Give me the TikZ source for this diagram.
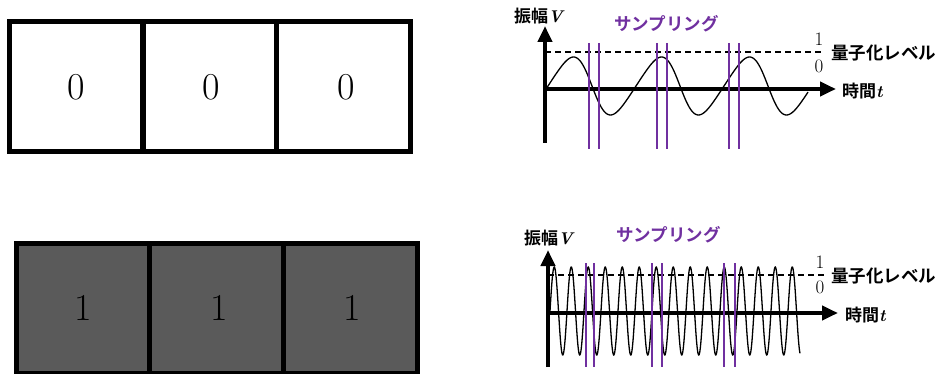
\documentclass[tikz,border=0pt]{standalone}
\usepackage{fontspec}
\newfontfamily\cjk{Noto Sans CJK JP Bold}
\usetikzlibrary{arrows.meta}
\definecolor{samp}{HTML}{7030A0}
\definecolor{cellgray}{HTML}{5A5A5A}
\newcommand{\varit}[1]{{\rmfamily\bfseries\itshape #1}}
\begin{document}
\begin{tikzpicture}[x=1pt,y=-1pt,
  cell/.style={draw=black,line width=5pt,minimum width=134pt,minimum height=130pt,inner sep=0pt,font=\fontsize{38}{40}\selectfont},
  graycell/.style={cell,fill=cellgray},
  axis/.style={line width=4pt,-{Triangle[length=16pt,width=14pt]}},
  wave/.style={line width=1.3pt,black},
  samp/.style={draw=samp,line width=1.4pt},
  lvl/.style={line width=1.2pt,dash pattern=on 6pt off 4pt},
  jp/.style={font=\cjk\fontsize{17}{19}\selectfont,inner sep=0pt},
  jpp/.style={font=\cjk\fontsize{17.5}{19}\selectfont,inner sep=0pt,text=samp},
  dig/.style={font=\fontsize{19}{21}\selectfont,inner sep=0pt}]
\useasboundingbox (0,0) rectangle (944,374);
% top cells
\node[cell] (a1) at (76,87) {\raisebox{-4pt}{0}};
\node[cell] (a2) at (209.5,87) {\raisebox{-4pt}{\hspace{4pt}0}};
\node[cell] (a3) at (343,87) {\raisebox{-4pt}{\hspace{6pt}0}};
% bottom cells
\node[graycell] (b1) at (83,308) {\raisebox{-7pt}{1}};
\node[graycell] (b2) at (216.5,308) {\raisebox{-7pt}{\hspace{6pt}1}};
\node[graycell] (b3) at (350,308) {\raisebox{-7pt}{\hspace{4pt}1}};
% ---- top graph
\coordinate (o1) at (545,89);
\coordinate (yb1) at (545,143);
\coordinate (yt1) at (545,26);
\coordinate (xt1) at (836,89);
\coordinate (d1s) at (545,52);
\coordinate (d1e) at (824,52);
\draw[lvl] (d1s) -- (d1e);
\draw[wave] plot[domain=545:808,samples=240] (\x,{86-29*sin(4.0909*(\x-548)-15*sin(4.0909*(\x-548)))});
\draw[axis] (yb1) -- (yt1);
\draw[axis] (o1) -- (xt1);
\foreach \xx in {589,599,657,667,729,739}{
  \draw[samp] (\xx,43) -- (\xx,149);
}
\node[jp,anchor=west] (va) at (514,16) {振幅\varit{V}};
\node[jpp,anchor=west] (sa) at (614,24) {サンプリング};
\node[dig] (one1) at (819,39) {1};
\node[dig] (zero1) at (819,66) {0};
\node[jpp,anchor=west,text=black] (qa) at (831,53) {量子化レベル};
\node[jp,anchor=west] (ta) at (842,91) {時間\varit{t}};
% ---- bottom graph
\coordinate (o2) at (548,313);
\coordinate (yb2) at (548,367);
\coordinate (yt2) at (548,250);
\coordinate (xt2) at (838,313);
\coordinate (d2s) at (548,275);
\coordinate (d2e) at (826,275);
\draw[lvl] (d2s) -- (d2e);
\draw[wave] plot[domain=550:800,samples=700] (\x,{311-44*sin(21.1765*(\x-550))});
\draw[axis] (yb2) -- (yt2);
\draw[axis] (o2) -- (xt2);
\foreach \xx in {586,594,652,662,724,735}{
  \draw[samp] (\xx,263) -- (\xx,367);
}
\node[jp,anchor=west] (vb) at (524,238) {振幅\varit{V}};
\node[jpp,anchor=west] (sb) at (616,235) {サンプリング};
\node[dig] (one2) at (820,262) {1};
\node[dig] (zero2) at (820,287) {0};
\node[jpp,anchor=west,text=black] (qb) at (831,276) {量子化レベル};
\node[jp,anchor=west] (tb) at (845,315) {時間\varit{t}};
\end{tikzpicture}
\end{document}
